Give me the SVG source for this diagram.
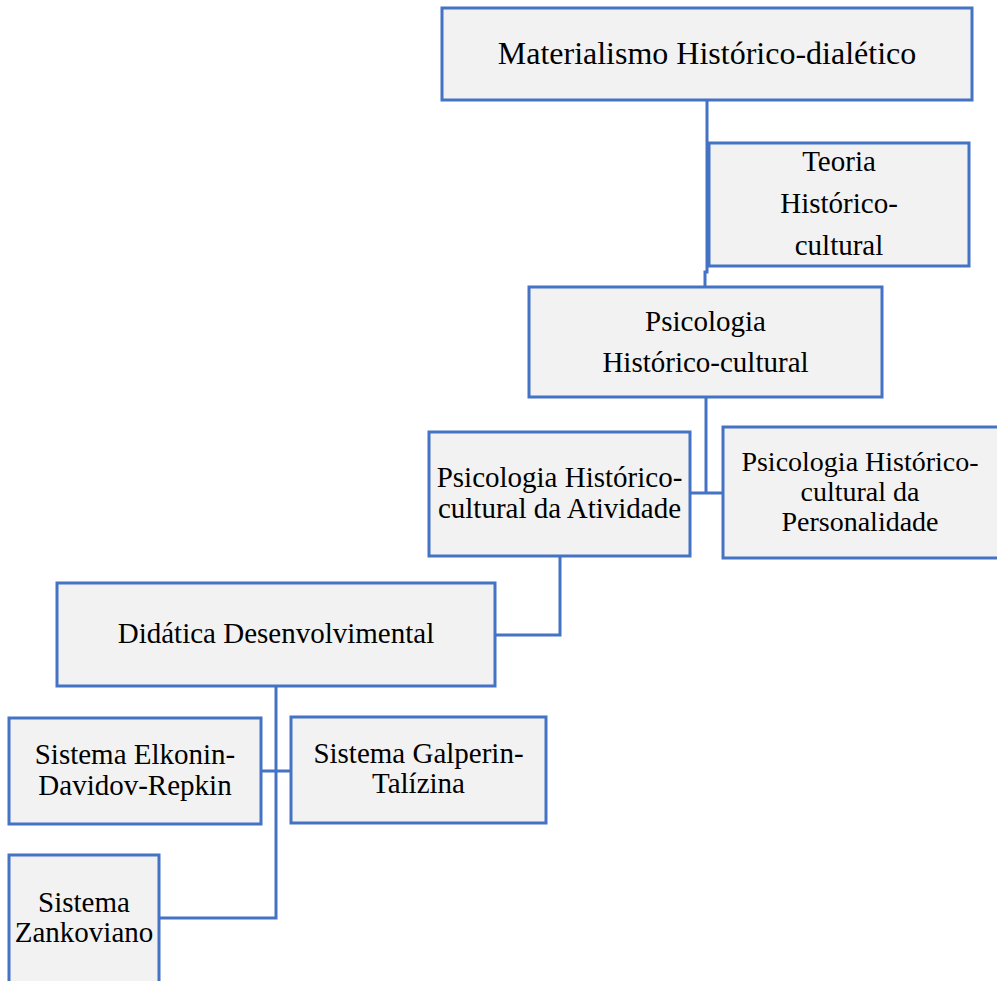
<svg xmlns="http://www.w3.org/2000/svg" width="997" height="981" viewBox="0 0 997 981">
<style>
.box{fill:#f2f2f2;stroke:#4472c4;stroke-width:3}
.t{font-family:"Liberation Serif","Times New Roman",serif;font-size:29px;fill:#000;text-anchor:middle}
.big{font-size:32px}
.sm{font-size:28px}
.con{fill:none;stroke:#4472c4;stroke-width:3}
</style>
<rect width="997" height="981" fill="#fff"/>
<g id="connectors">
<path class="con" d="M707,100 V272 H705 V287"/>
<path class="con" d="M706,397 V493 M690,493 H723"/>
<path class="con" d="M560,556 V635 H495"/>
<path class="con" d="M276,686 V918 H159 M261,771 H291"/>
</g>
<g id="n1">
<rect class="box" x="442" y="8" width="530" height="92"/>
<text class="t big" x="707" y="64">Materialismo Histórico-dialético</text>
</g>
<g id="n2">
<rect class="box" x="709" y="143" width="260" height="123"/>
<text class="t" x="839" y="171">Teoria</text>
<text class="t" x="839" y="213">Histórico-</text>
<text class="t" x="839" y="255">cultural</text>
</g>
<g id="n3">
<rect class="box" x="529" y="287" width="353" height="110"/>
<text class="t" x="705.5" y="331">Psicologia</text>
<text class="t" x="705.5" y="372">Histórico-cultural</text>
</g>
<g id="n4">
<rect class="box" x="429" y="432" width="261" height="124"/>
<text class="t" x="559.5" y="487">Psicologia Histórico-</text>
<text class="t" x="559.5" y="518">cultural da Atividade</text>
</g>
<g id="n5">
<rect class="box" x="723" y="427" width="276" height="131"/>
<text class="t sm" x="860" y="471">Psicologia Histórico-</text>
<text class="t sm" x="860" y="501">cultural da</text>
<text class="t sm" x="860" y="531">Personalidade</text>
</g>
<g id="n6">
<rect class="box" x="57" y="583" width="438" height="103"/>
<text class="t" x="276" y="643">Didática Desenvolvimental</text>
</g>
<g id="n7">
<rect class="box" x="9" y="718" width="252" height="106"/>
<text class="t" x="135" y="764">Sistema Elkonin-</text>
<text class="t" x="135" y="795">Davidov-Repkin</text>
</g>
<g id="n8">
<rect class="box" x="291" y="717" width="255" height="106"/>
<text class="t" x="418.5" y="763">Sistema Galperin-</text>
<text class="t" x="418.5" y="793">Talízina</text>
</g>
<g id="n9">
<rect class="box" x="9" y="855" width="150" height="150"/>
<text class="t" x="84" y="912">Sistema</text>
<text class="t" x="84" y="942">Zankoviano</text>
</g>
</svg>
